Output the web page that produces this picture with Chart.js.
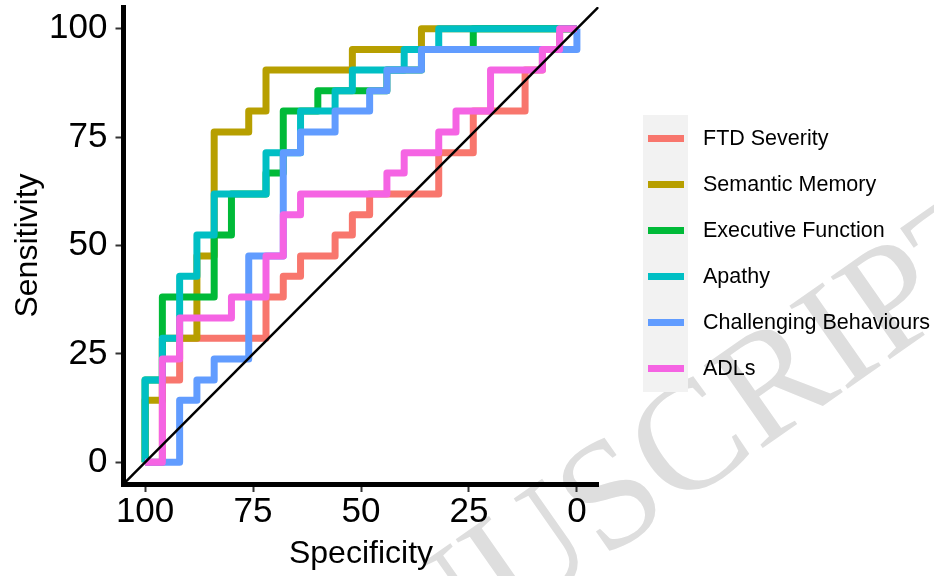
<!DOCTYPE html>
<html>
<head>
<meta charset="utf-8">
<title>ROC curves</title>
<script src="https://cdn.jsdelivr.net/npm/chart.js@4.4.1/dist/chart.umd.min.js"></script>
<style>
    html, body { margin: 0; padding: 0; background: #fff; }
    #wrap { width: 934px; height: 576px; position: relative; }
</style>
</head>
<body>
<div id="wrap"><canvas id="roc"></canvas></div>
<script>
// Séries et couleurs (palette ggplot)
const seriesNames = ['FTD Severity', 'Semantic Memory', 'Executive Function', 'Apathy', 'Challenging Behaviours', 'ADLs'];
const seriesColors = ['#F8766D', '#B79F00', '#00BA38', '#00BFC4', '#619CFF', '#F564E3'];

// Graduations des axes
const tickValues = [0, 25, 50, 75, 100];

// Courbes ROC en escalier (spécificité %, sensibilité %)
const specFTD = [100, 96, 96, 92, 92, 72, 72, 68, 68, 64, 64, 56, 56, 52, 52, 48, 48, 32, 32, 24, 24, 12, 12, 8, 8, 4, 4, 0];
const sensFTD = [0, 0, 19.0, 19.0, 28.6, 28.6, 38.1, 38.1, 42.9, 42.9, 47.6, 47.6, 52.4, 52.4, 57.1, 57.1, 61.9, 61.9, 71.4, 71.4, 81.0, 81.0, 90.5, 90.5, 95.2, 95.2, 100, 100];

const specSemantic = [100, 100, 96, 96, 88, 88, 84, 84, 76, 76, 72, 72, 52, 52, 36, 36, 0];
const sensSemantic = [0, 14.3, 14.3, 28.6, 28.6, 47.6, 47.6, 76.2, 76.2, 81.0, 81.0, 90.5, 90.5, 95.2, 95.2, 100, 100];

const specExecutive = [100, 100, 96, 96, 84, 84, 80, 80, 72, 72, 68, 68, 60, 60, 44, 44, 36, 36, 24, 24, 0];
const sensExecutive = [0, 19.0, 19.0, 38.1, 38.1, 52.4, 52.4, 61.9, 61.9, 66.7, 66.7, 81.0, 81.0, 85.7, 85.7, 90.5, 90.5, 95.2, 95.2, 100, 100];

const specApathy = [100, 100, 96, 96, 92, 92, 88, 88, 84, 84, 72, 72, 64, 64, 56, 56, 52, 52, 40, 40, 32, 32, 0];
const sensApathy = [0, 19.0, 19.0, 28.6, 28.6, 42.9, 42.9, 52.4, 52.4, 61.9, 61.9, 71.4, 71.4, 81.0, 81.0, 85.7, 85.7, 90.5, 90.5, 95.2, 95.2, 100, 100];

const specBehaviour = [100, 92, 92, 88, 88, 84, 84, 76, 76, 68, 68, 64, 64, 56, 56, 48, 48, 44, 44, 36, 36, 0, 0];
const sensBehaviour = [0, 0, 14.3, 14.3, 19.0, 19.0, 23.8, 23.8, 47.6, 47.6, 71.4, 71.4, 76.2, 76.2, 81.0, 81.0, 85.7, 85.7, 90.5, 90.5, 95.2, 95.2, 100];

const specADL = [100, 96, 96, 92, 92, 80, 80, 72, 72, 68, 68, 64, 64, 44, 44, 40, 40, 32, 32, 28, 28, 20, 20, 8, 8, 4, 4, 0];
const sensADL = [0, 0, 23.8, 23.8, 33.3, 33.3, 38.1, 38.1, 47.6, 47.6, 57.1, 57.1, 61.9, 61.9, 66.7, 66.7, 71.4, 71.4, 76.2, 76.2, 81.0, 81.0, 90.5, 90.5, 95.2, 95.2, 100, 100];

// Diagonale de référence
const diagSpec = [105, -5];
const diagSens = [-5, 105];

const watermarkText = 'MANUSCRIPT';

const rocSeries = [
    [specFTD, sensFTD],
    [specSemantic, sensSemantic],
    [specExecutive, sensExecutive],
    [specApathy, sensApathy],
    [specBehaviour, sensBehaviour],
    [specADL, sensADL]
];

function toPoints(xs, ys) {
    return xs.map((x, i) => ({ x: x, y: ys[i] }));
}

const FONT = 'Liberation Sans';

// Filigrane gris en arrière-plan
const watermark = {
    id: 'watermark',
    beforeDraw(chart) {
        const ctx = chart.ctx;
        ctx.save();
        ctx.font = '155px "Liberation Serif"';
        ctx.fillStyle = '#DEDEDE';
        ctx.translate(615, 502);
        ctx.rotate(-35 * Math.PI / 180);
        const pre = ctx.measureText('MANU').width;
        const s = ctx.measureText('S').width;
        ctx.textBaseline = 'middle';
        ctx.fillText(watermarkText, -pre - s / 2, 0);
        ctx.restore();
    }
};

// Légende façon ggplot (fond gris derrière les clés)
const keyLegend = {
    id: 'keyLegend',
    afterDraw(chart) {
        const ctx = chart.ctx;
        ctx.save();
        ctx.fillStyle = '#F2F2F2';
        ctx.fillRect(643, 115, 45, 277);
        ctx.font = '21.5px "' + FONT + '"';
        ctx.textBaseline = 'middle';
        seriesNames.forEach((name, k) => {
            const y = 138.5 + k * 46;
            ctx.strokeStyle = seriesColors[k];
            ctx.lineWidth = 7;
            ctx.beginPath();
            ctx.moveTo(648, y);
            ctx.lineTo(684, y);
            ctx.stroke();
            ctx.fillStyle = '#000';
            ctx.fillText(name, 703, y + 1);
        });
        ctx.restore();
    }
};

const datasets = seriesNames.map((name, k) => ({
    label: name,
    data: toPoints(rocSeries[k][0], rocSeries[k][1]),
    borderColor: seriesColors[k],
    backgroundColor: seriesColors[k],
    borderWidth: 7,
    borderJoinStyle: 'round',
    borderCapStyle: 'butt',
    pointRadius: 0,
    fill: false,
    order: seriesNames.length - k  // le dernier est dessiné au-dessus
}));

datasets.push({
    label: 'Chance',
    data: toPoints(diagSpec, diagSens),
    borderColor: '#000',
    borderWidth: 2.5,
    pointRadius: 0,
    fill: false,
    order: 0
});

const axisTicks = s => { s.ticks = tickValues.map(v => ({ value: v })); };

new Chart(document.getElementById('roc'), {
    type: 'line',
    data: { datasets: datasets },
    options: {
        responsive: true,
        maintainAspectRatio: false,
        animation: false,
        events: [],
        layout: { padding: { left: 0, top: 7, right: 335.5, bottom: 0 } },
        elements: { line: { tension: 0 }, point: { radius: 0 } },
        plugins: {
            legend: { display: false },
            tooltip: { enabled: false }
        },
        scales: {
            x: {
                type: 'linear',
                min: -5,
                max: 105,
                reverse: true,
                afterBuildTicks: axisTicks,
                afterFit: s => { s.height = 92; s.paddingLeft = 0; s.paddingRight = 0; },
                grid: { drawOnChartArea: false, drawTicks: true, tickLength: 8, tickColor: '#333', tickWidth: 2 },
                border: { display: true, color: '#000', width: 5 },
                ticks: { font: { family: FONT, size: 35 }, color: '#000', padding: -1, maxRotation: 0, autoSkip: false },
                title: { display: true, text: 'Specificity', color: '#000', font: { family: FONT, size: 32 }, padding: { top: 0, bottom: 3 } }
            },
            y: {
                type: 'linear',
                min: -5,
                max: 105,
                afterBuildTicks: axisTicks,
                afterFit: s => { s.width = 123.5; s.paddingTop = 0; s.paddingBottom = 0; },
                grid: { drawOnChartArea: false, drawTicks: true, tickLength: 8, tickColor: '#333', tickWidth: 2 },
                border: { display: true, color: '#000', width: 5 },
                ticks: { font: { family: FONT, size: 35 }, color: '#000', padding: 8, autoSkip: false },
                title: { display: true, text: 'Sensitivity', color: '#000', font: { family: FONT, size: 32 }, padding: { top: 9, bottom: 0 } }
            }
        }
    },
    plugins: [watermark, keyLegend]
});
</script>
</body>
</html>
